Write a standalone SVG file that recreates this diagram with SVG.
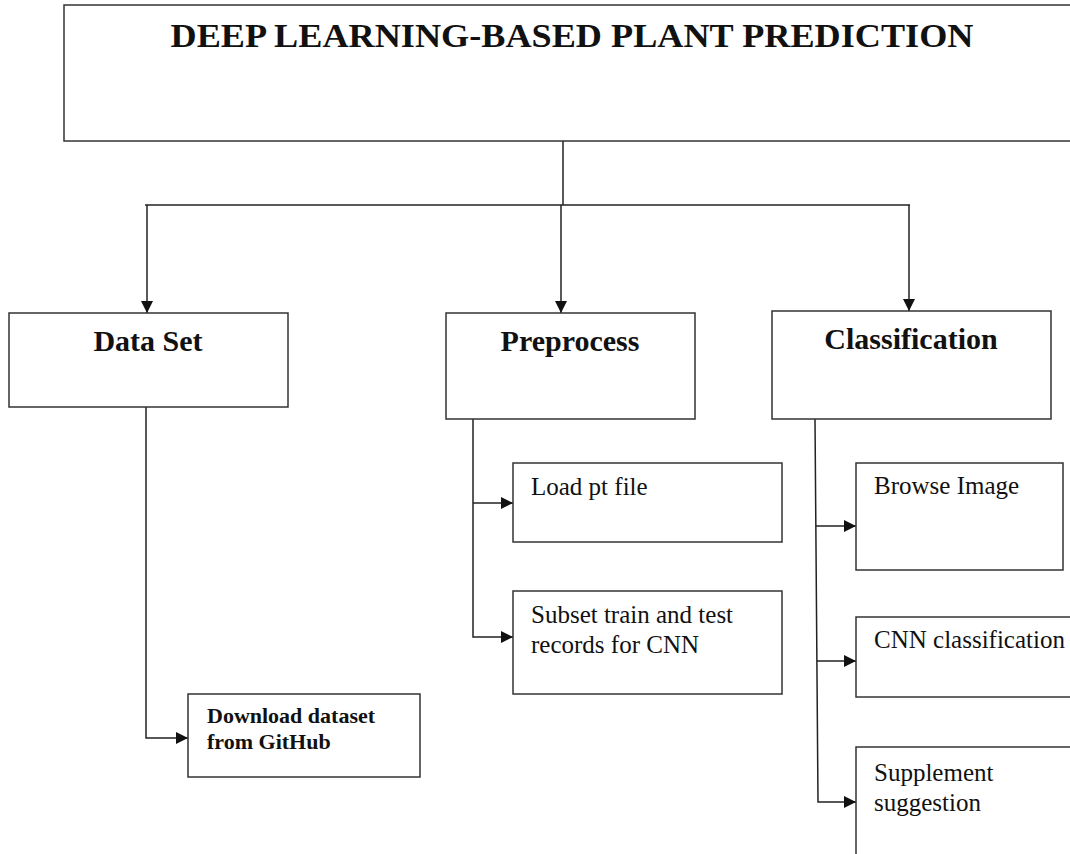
<svg xmlns="http://www.w3.org/2000/svg" width="1070" height="854" viewBox="0 0 1070 854">
<defs>
<style>
.box{fill:#fff;stroke:#333;stroke-width:1.5}
.ln{fill:none;stroke:#222;stroke-width:1.5}
.t{font-family:"Liberation Serif","Times New Roman",serif;fill:#111}
.b{font-weight:bold}
.h{font-size:30px;font-weight:bold}
.s{font-size:25px}
</style>
<marker id="ah" viewBox="0 0 10 10" refX="10" refY="5" markerWidth="12" markerHeight="12" markerUnits="userSpaceOnUse" orient="auto">
<path d="M0,0 L10,5 L0,10 Z" fill="#111"/>
</marker>
</defs>
<rect width="1070" height="854" fill="#fff"/>
<g id="connectors">
<path class="ln" d="M563,141 V205"/>
<path class="ln" d="M145,205 H910"/>
<path class="ln" d="M147,205 V313" marker-end="url(#ah)"/>
<path class="ln" d="M561,205 V313" marker-end="url(#ah)"/>
<path class="ln" d="M909,205 V311" marker-end="url(#ah)"/>
<path class="ln" d="M146,407 V738 H188" marker-end="url(#ah)"/>
<path class="ln" d="M473,419 V637 H513" marker-end="url(#ah)"/>
<path class="ln" d="M473,503 H513" marker-end="url(#ah)"/>
<path class="ln" d="M815,419 L818,802 H856" marker-end="url(#ah)"/>
<path class="ln" d="M816,526 H856" marker-end="url(#ah)"/>
<path class="ln" d="M817,661 H856" marker-end="url(#ah)"/>
</g>
<g id="title">
<rect class="box" x="64" y="5" width="1020" height="136"/>
<text class="t b" x="572" y="47" font-size="34" text-anchor="middle" textLength="803" lengthAdjust="spacingAndGlyphs">DEEP LEARNING-BASED PLANT PREDICTION</text>
</g>
<g id="dataset">
<rect class="box" x="9" y="313" width="279" height="94"/>
<text class="t h" x="148" y="351" text-anchor="middle">Data Set</text>
</g>
<g id="preprocess">
<rect class="box" x="446" y="313" width="249" height="106"/>
<text class="t h" x="570" y="351" text-anchor="middle">Preprocess</text>
</g>
<g id="classification">
<rect class="box" x="772" y="311" width="279" height="108"/>
<text class="t h" x="911" y="349" text-anchor="middle">Classification</text>
</g>
<g id="download">
<rect class="box" x="188" y="694" width="232" height="83"/>
<text class="t b" x="207" y="723" font-size="22">Download dataset</text>
<text class="t b" x="207" y="749" font-size="22">from GitHub</text>
</g>
<g id="loadpt">
<rect class="box" x="513" y="463" width="269" height="79"/>
<text class="t s" x="531" y="495">Load pt file</text>
</g>
<g id="subset">
<rect class="box" x="513" y="591" width="269" height="103"/>
<text class="t s" x="531" y="623">Subset train and test</text>
<text class="t s" x="531" y="653">records for CNN</text>
</g>
<g id="browse">
<rect class="box" x="856" y="463" width="207" height="107"/>
<text class="t s" x="874" y="494">Browse Image</text>
</g>
<g id="cnn">
<rect class="box" x="856" y="617" width="230" height="80"/>
<text class="t s" x="874" y="648">CNN classification</text>
</g>
<g id="supplement">
<rect class="box" x="856" y="747" width="230" height="120"/>
<text class="t s" x="874" y="781">Supplement</text>
<text class="t s" x="874" y="811">suggestion</text>
</g>
</svg>
